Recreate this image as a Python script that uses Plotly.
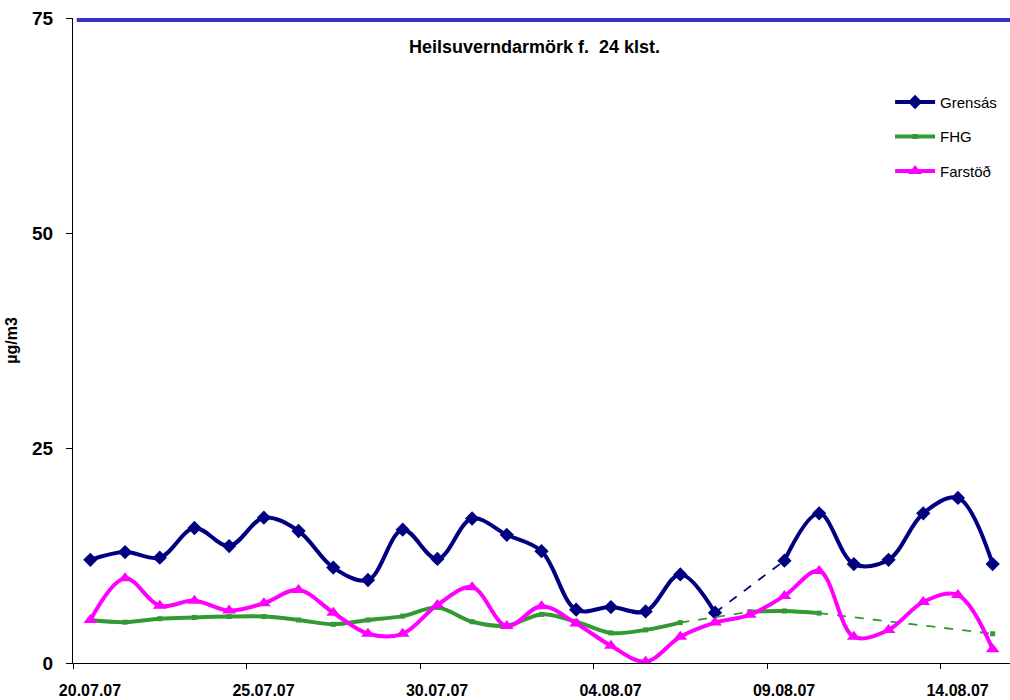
import plotly.graph_objects as go
import pandas as pd

# ---- data ----
start_date = "2007-07-20"
n_days = 27
grensas = [12.0, 12.9, 12.25, 15.7, 13.6, 16.9, 15.35, 11.1, 9.65, 15.5, 12.1, 16.8, 14.9, 13.0,
           6.2, 6.5, 6.0, 10.3, 5.85, None, 11.9, 17.4, 11.5, 12.0, 17.4, 19.2, 11.5]
fhg = [5.0, 4.75, 5.15, 5.3, 5.4, 5.4, 5.0, 4.5, 5.0, 5.45, 6.45, 4.8, 4.35, 5.65,
       4.8, 3.5, 3.85, 4.7, None, 5.95, 6.05, 5.8, None, None, None, None, 3.4]
farstod = [5.0, 9.85, 6.65, 7.25, 6.1, 6.95, 8.5, 5.85, 3.4, 3.4, 6.75, 8.8, 4.3, 6.6,
           4.6, 2.0, 0.15, 3.05, 4.7, 5.6, 7.8, 10.7, 3.05, 3.85, 7.1, 7.9, 1.6]
series_names = ["Grensás", "FHG", "Farstöð"]
limit_value = 75
limit_label = "Heilsuverndarmörk f.&nbsp; 24 klst."
tick_dates = ["2007-07-20", "2007-07-25", "2007-07-30", "2007-08-04", "2007-08-09", "2007-08-14"]
tick_labels = ["20.07.07", "25.07.07", "30.07.07", "04.08.07", "09.08.07", "14.08.07"]
y_ticks = [0, 25, 50, 75]
y_range = [0, 75]
x_range = ["2007-07-20", "2007-08-16"]

dates = pd.date_range(start_date, periods=n_days, freq="D") + pd.Timedelta(hours=12)

colors = ["#000080", "#339933", "#FF00FF"]
symbols = ["diamond", "square", "triangle-up"]
msizes = [11, 5, 12]

FONT = "Liberation Sans, Arial, sans-serif"

fig = go.Figure()


def gap_segments(values):
    segs = []
    last = None
    for i, v in enumerate(values):
        if v is None:
            continue
        if last is not None and i - last > 1:
            segs.append((last, i))
        last = i
    return segs


for idx, (name, vals) in enumerate(zip(series_names, [grensas, fhg, farstod])):
    for a, b in gap_segments(vals):
        fig.add_trace(go.Scatter(
            x=[dates[a], dates[b]], y=[vals[a], vals[b]], mode="lines",
            line=dict(color=colors[idx], width=1.8, dash="dash"),
            showlegend=False, hoverinfo="skip"))
    fig.add_trace(go.Scatter(
        x=dates, y=vals, name=name, mode="lines+markers",
        line=dict(color=colors[idx], width=4, shape="spline", smoothing=1.0),
        marker=dict(symbol=symbols[idx], size=msizes[idx], color=colors[idx]),
        connectgaps=False, legendgroup=name))

# limit line at 75 (positioned in y-domain fraction so it is not clipped at the top edge)
limit_frac = (limit_value - y_range[0]) / (y_range[1] - y_range[0])
fig.add_shape(type="line", xref="paper", yref="y domain", x0=0.004, x1=1,
              y0=limit_frac - 0.003, y1=limit_frac - 0.003,
              line=dict(color="#3333CC", width=4))

fig.add_annotation(text="<b>" + limit_label + "</b>", xref="paper", yref="paper",
                   x=0.493, y=0.955, yanchor="middle", showarrow=False,
                   font=dict(family=FONT, size=18, color="black"))

fig.update_layout(
    width=1010, height=700,
    margin=dict(l=73, r=0, t=18, b=37),
    paper_bgcolor="white", plot_bgcolor="white",
    font=dict(family=FONT, color="black"),
    legend=dict(x=0.872, y=0.895, xanchor="left", yanchor="top",
                font=dict(family=FONT, size=15), traceorder="grouped", itemwidth=40,
                tracegroupgap=12, bgcolor="rgba(0,0,0,0)"),
    xaxis=dict(type="date", range=x_range, tickvals=tick_dates, ticktext=tick_labels,
               showgrid=False, zeroline=False, showline=True, linecolor="black", linewidth=1,
               ticks="outside", ticklen=5, tickcolor="black", automargin=False,
               ticklabelshift=17, ticklabelstandoff=8,
               tickfont=dict(family=FONT, size=16, weight="bold")),
    yaxis=dict(range=y_range, tickvals=y_ticks, showgrid=False, zeroline=False,
               showline=True, linecolor="black", linewidth=1, automargin=False,
               ticks="outside", ticklen=6, tickcolor="black", ticklabelstandoff=9,
               tickfont=dict(family=FONT, size=19, weight="bold"),
               title=dict(text="µg/m3", font=dict(family=FONT, size=16, weight="bold"), standoff=10)),
)

fig.write_html("out.html", config={"displayModeBar": False},
               post_script="document.body.style.margin='0px';document.body.style.overflow='hidden';")
